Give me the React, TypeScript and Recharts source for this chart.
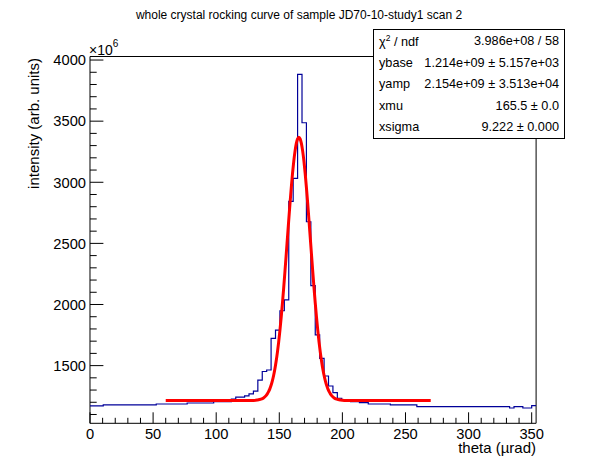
import { ComposedChart, Line, XAxis, YAxis, ReferenceArea } from "recharts";

// histogram binning: 101 bins of 3.5 µrad starting at 0
const BIN_LOW = 0;
const BIN_WIDTH = 3.5;

// bin contents, units of 1e6
const counts = [
  1170, 1170, 1170, 1178, 1178, 1178, 1178, 1178, 1178, 1178, 1178, 1178, 1178, 1178, 1178,
  1186, 1186, 1186, 1186, 1186, 1186, 1186,
  1194, 1194, 1194, 1194, 1194, 1194,
  1205, 1205, 1205, 1205,
  1225, 1242, 1242, 1252, 1268, 1292, 1382, 1452, 1464, 1723, 1791, 1949, 2037, 2843, 3032,
  3883, 3487, 2677, 2154, 1751, 1560, 1415, 1333, 1279, 1233,
  1219, 1219, 1205, 1205, 1197, 1197,
  1186, 1186, 1186, 1186, 1186,
  1178, 1178, 1178, 1178, 1178, 1178,
  1164, 1164, 1164, 1164, 1164, 1164, 1164, 1164, 1164, 1164, 1164, 1164, 1164, 1164, 1164,
  1164, 1164, 1164, 1164, 1164, 1164,
  1153, 1164, 1164, 1153, 1153, 1172,
];

// fitted curve (red)
const fitX = [
  60, 125, 129.5, 132.5, 135.5, 137.5, 139.5, 140.5, 141.5, 142.5, 143.5, 144.5, 145.5, 146.5,
  147.5, 148.5, 149.5, 150.5, 151.5, 152.5, 153.5, 154.5, 155.5, 156.5, 157.5, 158.5, 159.5,
  160.5, 161.5, 162.5, 163.5, 164.5, 165.5, 166.5, 167.5, 168.5, 169.5, 170.5, 171.5, 172.5,
  173.5, 174.5, 175.5, 176.5, 177.5, 178.5, 179.5, 180.5, 181.5, 182.5, 183.5, 184.5, 185.5,
  186.5, 187.5, 188.5, 189.5, 190.5, 191.5, 193.5, 195.5, 198.5, 201.5, 206, 270,
];
const fitY = [
  1214, 1214, 1215, 1218, 1225, 1235, 1254, 1269, 1287, 1310, 1339, 1375, 1419, 1472,
  1535, 1608, 1692, 1788, 1894, 2011, 2138, 2272, 2411, 2552, 2693, 2829, 2957,
  3074, 3175, 3257, 3318, 3355, 3368, 3355, 3318, 3257, 3175, 3074, 2957, 2829,
  2693, 2552, 2411, 2272, 2138, 2011, 1894, 1788, 1692, 1608, 1535, 1472, 1419,
  1375, 1339, 1310, 1287, 1269, 1254, 1235, 1225, 1218, 1215, 1214, 1214,
];

const xTicks = [
  0, 10, 20, 30, 40, 50, 60, 70, 80, 90, 100, 110, 120, 130, 140, 150, 160, 170, 180,
  190, 200, 210, 220, 230, 240, 250, 260, 270, 280, 290, 300, 310, 320, 330, 340, 350,
];
const xLabels = [0, 50, 100, 150, 200, 250, 300, 350];
const yTicks = [
  1100, 1200, 1300, 1400, 1500, 1600, 1700, 1800, 1900, 2000, 2100, 2200, 2300, 2400,
  2500, 2600, 2700, 2800, 2900, 3000, 3100, 3200, 3300, 3400, 3500, 3600, 3700, 3800,
  3900, 4000,
];
const yLabels = [1500, 2000, 2500, 3000, 3500, 4000];

const statNames = ["ybase", "yamp", "xmu", "xsigma"];
const statValues = [
  "1.214e+09 \u00b1 5.157e+03",
  "2.154e+09 \u00b1 3.513e+04",
  "165.5 \u00b1 0.0",
  "9.222 \u00b1 0.000",
];

const X_DOMAIN: [number, number] = [0, 353.5];
const Y_DOMAIN: [number, number] = [1028, 4029];
const FONT = "'Liberation Sans', Arial, Helvetica, sans-serif";

const histData = counts
  .map((c, i) => ({ x: BIN_LOW + i * BIN_WIDTH, y: c }))
  .concat([{ x: BIN_LOW + counts.length * BIN_WIDTH, y: counts[counts.length - 1] }]);
const fitData = fitX.map((x, i) => ({ x, y: fitY[i] }));

// ROOT style ticks: drawn inward from the frame, labels only on majors
function XTick(props: any) {
  const { x, y, payload } = props;
  const major = xLabels.includes(payload.value);
  return (
    <g>
      <line x1={x} x2={x} y1={y} y2={y - (major ? 11 : 5.5)} stroke="#000" strokeWidth={1} />
      {major && (
        <text x={x} y={y + 16} textAnchor="middle" fontFamily={FONT} fontSize={14.7} fill="#000">
          {payload.value}
        </text>
      )}
    </g>
  );
}

function YTick(props: any) {
  const { x, y, payload } = props;
  const major = yLabels.includes(payload.value);
  return (
    <g>
      <line x1={x} x2={x + (major ? 13.4 : 6.7)} y1={y} y2={y} stroke="#000" strokeWidth={1} />
      {major && (
        <text x={x - 4} y={y} dy="0.36em" textAnchor="end" fontFamily={FONT} fontSize={14.7} fill="#000">
          {payload.value}
        </text>
      )}
    </g>
  );
}

export default function App() {
  return (
    <div style={{ position: "absolute", left: 0, top: 0, width: 596, height: 472, background: "#fff" }}>
      <ComposedChart width={596} height={472} margin={{ top: 56.5, right: 59.9, bottom: 18.7, left: 0 }}>
        <XAxis
          type="number"
          dataKey="x"
          domain={X_DOMAIN}
          ticks={xTicks}
          interval={0}
          height={30}
          tickSize={0}
          tickMargin={0}
          axisLine={false}
          tickLine={false}
          tick={<XTick />}
          allowDataOverflow
        />
        <YAxis
          type="number"
          domain={Y_DOMAIN}
          ticks={yTicks}
          interval={0}
          width={90}
          tickSize={0}
          tickMargin={0}
          axisLine={false}
          tickLine={false}
          tick={<YTick />}
          allowDataOverflow
        />
        <ReferenceArea
          x1={X_DOMAIN[0]}
          x2={X_DOMAIN[1]}
          y1={Y_DOMAIN[0]}
          y2={Y_DOMAIN[1]}
          fill="none"
          stroke="#000"
          strokeWidth={1}
          ifOverflow="visible"
        />
        <Line
          data={histData}
          dataKey="y"
          type="stepAfter"
          stroke="#000099"
          strokeWidth={1.2}
          dot={false}
          activeDot={false}
          isAnimationActive={false}
        />
        <Line
          data={fitData}
          dataKey="y"
          type="monotone"
          stroke="#ff0000"
          strokeWidth={3}
          dot={false}
          activeDot={false}
          isAnimationActive={false}
        />
      </ComposedChart>

      <svg width={596} height={472} style={{ position: "absolute", left: 0, top: 0, pointerEvents: "none" }}>
        <text x={299} y={19} textAnchor="middle" fontFamily={FONT} fontSize={12} fill="#000">
          whole crystal rocking curve of sample JD70-10-study1 scan 2
        </text>
        <text x={89} y={55} fontFamily={FONT} fontSize={14} fill="#000">
          {"\u00d710"}
          <tspan fontSize={10} dy={-8}>6</tspan>
        </text>
        <text x={536} y={453} textAnchor="end" fontFamily={FONT} fontSize={15} fill="#000">
          theta ({"\u00b5"}rad)
        </text>
        <text
          x={39}
          y={58}
          transform="rotate(-90 39 58)"
          textAnchor="end"
          fontFamily={FONT}
          fontSize={15}
          fill="#000"
        >
          intensity (arb. units)
        </text>
      </svg>

      <div
        style={{
          position: "absolute",
          left: 373,
          top: 29,
          width: 192,
          height: 110,
          boxSizing: "border-box",
          border: "1px solid #000",
          background: "#fff",
          fontFamily: FONT,
          fontSize: 12.7,
          color: "#000",
          padding: "0 5px 0 5px",
        }}
      >
        <div style={{ display: "flex", justifyContent: "space-between", height: 22, alignItems: "center" }}>
          <span>
            {"\u03c7"}
            <sup style={{ fontSize: 8.5, verticalAlign: 5 }}>2</sup> / ndf
          </span>
          <span>3.986e+08 / 58</span>
        </div>
        {statNames.map((n, i) => (
          <div
            key={n}
            style={{ display: "flex", justifyContent: "space-between", height: 21.5, alignItems: "center" }}
          >
            <span>{n}</span>
            <span>{statValues[i]}</span>
          </div>
        ))}
      </div>
    </div>
  );
}
